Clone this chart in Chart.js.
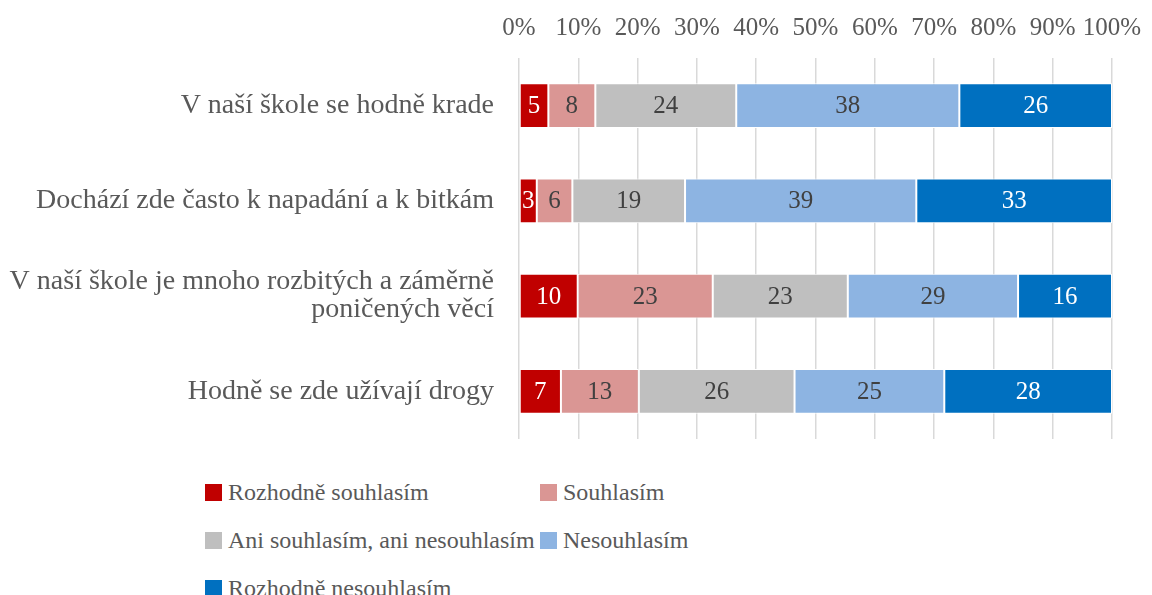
<!DOCTYPE html>
<html>
<head>
<meta charset="utf-8">
<script src="https://cdn.jsdelivr.net/npm/chart.js@4"></script>
<style>
  body { margin: 0; background: #fff; font-family: "Liberation Serif", serif; }
  #wrap { position: relative; width: 1152px; height: 595px; overflow: hidden; }
  #chartBox { position: absolute; left: 0; top: 0; width: 1152px; height: 470px; }
  #legend { position: absolute; left: 205px; top: 475px; width: 600px;
            display: grid; grid-template-columns: 335px 260px; row-gap: 14px;
            font-size: 24px; color: #595959; }
  #legend .item { display: flex; align-items: center; white-space: nowrap; height: 34px; }
  #legend .box { width: 17px; height: 17px; margin-right: 6px; flex: none; }
</style>
</head>
<body>
<div id="wrap">
  <div id="chartBox"><canvas id="barChartCanvas"></canvas></div>
  <div id="legend"></div>
</div>
<script>
const categories = [
  'V naší škole se hodně krade',
  'Dochází zde často k napadání a k bitkám',
  ['V naší škole je mnoho rozbitých a záměrně', 'poničených věcí'],
  'Hodně se zde užívají drogy'
];
const seriesNames = ['Rozhodně souhlasím', 'Souhlasím', 'Ani souhlasím, ani nesouhlasím', 'Nesouhlasím', 'Rozhodně nesouhlasím'];
const strongAgree = [5, 3, 10, 7];
const agree = [8, 6, 23, 13];
const neutral = [24, 19, 23, 26];
const disagree = [38, 39, 29, 25];
const strongDisagree = [26, 33, 16, 28];
const tickLabels = ['0%', '10%', '20%', '30%', '40%', '50%', '60%', '70%', '80%', '90%', '100%'];

const colors = ['#C00000', '#DA9694', '#BFBFBF', '#8DB4E2', '#0070C0'];
const labelColors = ['#ffffff', '#404040', '#404040', '#404040', '#ffffff'];
const allSeries = [strongAgree, agree, neutral, disagree, strongDisagree];
const rowTotals = categories.map((c, i) => allSeries.reduce((s, arr) => s + arr[i], 0));

// 100% stacked: each row scaled to its own total
const datasets = allSeries.map((vals, k) => ({
  label: seriesNames[k],
  data: vals.map((v, i) => v / rowTotals[i] * 100),
  raw: vals,
  backgroundColor: colors[k],
  borderColor: '#ffffff',
  borderWidth: 1,
  borderSkipped: false,
  barPercentage: 0.47,
  categoryPercentage: 1
}));

const valueLabels = {
  id: 'valueLabels',
  afterDatasetsDraw(chart) {
    const ctx = chart.ctx;
    ctx.save();
    ctx.font = '25px "Liberation Serif", serif';
    ctx.textAlign = 'center';
    ctx.textBaseline = 'middle';
    chart.data.datasets.forEach((ds, k) => {
      chart.getDatasetMeta(k).data.forEach((bar, i) => {
        const p = bar.getProps(['x', 'y', 'base'], true);
        ctx.fillStyle = labelColors[k];
        ctx.fillText(String(ds.raw[i]), (p.x + p.base) / 2, p.y + 1);
      });
    });
    ctx.restore();
  }
};

new Chart(document.getElementById('barChartCanvas'), {
  type: 'bar',
  data: { labels: categories, datasets: datasets },
  options: {
    indexAxis: 'y',
    responsive: true,
    maintainAspectRatio: false,
    animation: false,
    layout: { padding: { left: 0, right: 40, top: 0, bottom: 5 } },
    plugins: { legend: { display: false }, tooltip: { enabled: false } },
    scales: {
      x: {
        position: 'top',
        stacked: true,
        min: 0,
        max: 100,
        ticks: {
          stepSize: 10,
          autoSkip: false,
          maxRotation: 0,
          padding: 15,
          color: '#595959',
          font: { family: '"Liberation Serif", serif', size: 25 },
          callback: (v, i) => tickLabels[i]
        },
        grid: { color: '#d9d9d9', lineWidth: 1.5, drawTicks: false },
        border: { display: false },
        afterFit: (scale) => {
          scale.height = 58;
          scale.paddingLeft = 0;
          scale.paddingRight = 0;
        }
      },
      y: {
        stacked: true,
        ticks: {
          padding: 17,
          color: '#595959',
          font: { family: '"Liberation Serif", serif', size: 28, lineHeight: 1.0 }
        },
        grid: { display: false },
        border: { display: false },
        afterFit: (scale) => { scale.width = 519; }
      }
    }
  },
  plugins: [valueLabels]
});

const legendEl = document.getElementById('legend');
seriesNames.forEach((name, k) => {
  const item = document.createElement('div');
  item.className = 'item';
  item.innerHTML = '<span class="box" style="background:' + colors[k] + '"></span><span>' + name + '</span>';
  legendEl.appendChild(item);
});
</script>
</body>
</html>
